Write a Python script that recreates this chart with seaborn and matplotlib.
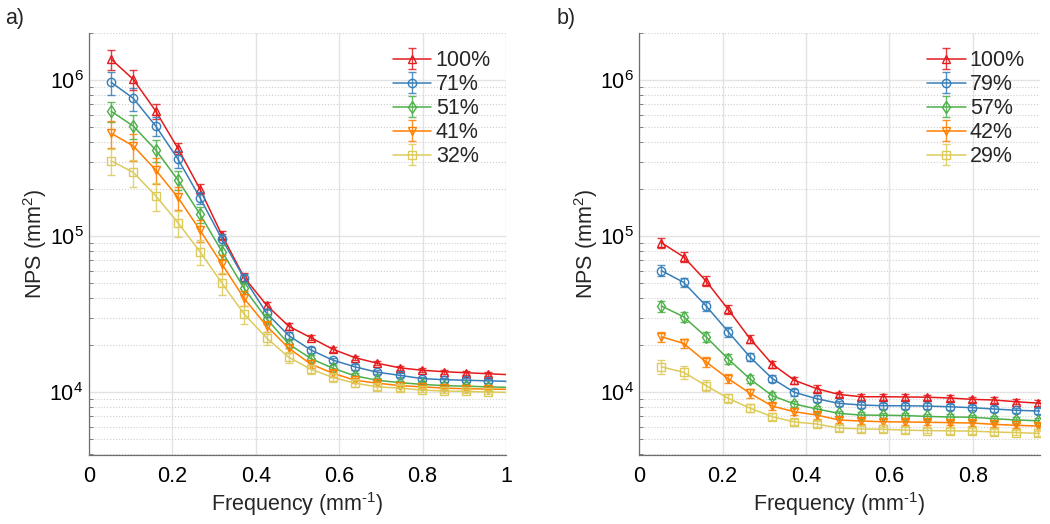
import numpy as np
import pandas as pd
import matplotlib
matplotlib.use('Agg')
import matplotlib.pyplot as plt
import seaborn as sns
from matplotlib.legend_handler import HandlerTuple
from matplotlib.ticker import LogLocator, NullFormatter

# ---------------- data ----------------
freq = [0.053, 0.106, 0.160, 0.213, 0.266, 0.319, 0.372, 0.426, 0.479, 0.532,
        0.585, 0.638, 0.691, 0.745, 0.798, 0.851, 0.904, 0.957, 1.011]

# panel a
labels_a = ['100%', '71%', '51%', '41%', '32%']
nps_a_100 = [1.36e6, 1.01e6, 6.32e5, 3.65e5, 2.0e5, 1.01e5, 5.43e4, 3.6e4, 2.64e4, 2.23e4,
             1.88e4, 1.66e4, 1.53e4, 1.43e4, 1.38e4, 1.35e4, 1.33e4, 1.31e4, 1.29e4]
nps_a_71 = [9.66e5, 7.63e5, 5.07e5, 3.12e5, 1.76e5, 9.53e4, 5.36e4, 3.2e4, 2.3e4, 1.86e4,
            1.6e4, 1.45e4, 1.34e4, 1.28e4, 1.22e4, 1.2e4, 1.19e4, 1.18e4, 1.17e4]
nps_a_51 = [6.3e5, 5.07e5, 3.56e5, 2.29e5, 1.38e5, 7.94e4, 4.62e4, 2.95e4, 2.03e4, 1.64e4,
            1.42e4, 1.27e4, 1.19e4, 1.15e4, 1.12e4, 1.1e4, 1.09e4, 1.08e4, 1.07e4]
nps_a_41 = [4.55e5, 3.78e5, 2.65e5, 1.77e5, 1.09e5, 6.59e4, 3.98e4, 2.65e4, 1.91e4, 1.51e4,
            1.32e4, 1.19e4, 1.14e4, 1.1e4, 1.08e4, 1.06e4, 1.05e4, 1.045e4, 1.04e4]
nps_a_32 = [3.03e5, 2.56e5, 1.81e5, 1.22e5, 7.94e4, 4.98e4, 3.16e4, 2.22e4, 1.67e4, 1.4e4,
            1.24e4, 1.14e4, 1.08e4, 1.06e4, 1.03e4, 1.015e4, 1.01e4, 1.0e4, 0.995e4]

# relative error (std / mean) for each curve of panel a
rel_a_100 = [0.15, 0.14, 0.11, 0.08, 0.07, 0.07, 0.06, 0.05, 0.05, 0.04,
             0.04, 0.03, 0.03, 0.03, 0.03, 0.03, 0.03, 0.03, 0.03]
rel_a_71 = [0.17, 0.17, 0.14, 0.12, 0.09, 0.08, 0.07, 0.06, 0.05, 0.05,
            0.04, 0.04, 0.03, 0.03, 0.03, 0.03, 0.03, 0.03, 0.03]
rel_a_51 = [0.15, 0.17, 0.16, 0.14, 0.12, 0.10, 0.08, 0.07, 0.06, 0.05,
            0.05, 0.04, 0.04, 0.03, 0.03, 0.03, 0.03, 0.03, 0.03]
rel_a_41 = [0.20, 0.20, 0.19, 0.17, 0.16, 0.14, 0.11, 0.08, 0.07, 0.06,
            0.05, 0.04, 0.04, 0.03, 0.03, 0.03, 0.03, 0.03, 0.03]
rel_a_32 = [0.19, 0.20, 0.20, 0.19, 0.18, 0.16, 0.13, 0.10, 0.08, 0.07,
            0.06, 0.05, 0.04, 0.04, 0.03, 0.03, 0.03, 0.03, 0.03]

# panel b
labels_b = ['100%', '79%', '57%', '42%', '29%']
nps_b_100 = [9.05e4, 7.36e4, 5.15e4, 3.39e4, 2.19e4, 1.51e4, 1.19e4, 1.05e4, 9.66e3, 9.33e3,
             9.33e3, 9.3e3, 9.27e3, 9.16e3, 8.98e3, 8.89e3, 8.67e3, 8.49e3, 8.4e3]
nps_b_79 = [6.0e4, 5.05e4, 3.57e4, 2.44e4, 1.67e4, 1.22e4, 9.96e3, 9.06e3, 8.46e3, 8.26e3,
            8.17e3, 8.17e3, 8.13e3, 8.05e3, 7.94e3, 7.79e3, 7.64e3, 7.56e3, 7.5e3]
nps_b_57 = [3.56e4, 3.04e4, 2.26e4, 1.63e4, 1.21e4, 9.47e3, 8.38e3, 7.79e3, 7.3e3, 7.12e3,
            7.1e3, 7.07e3, 6.98e3, 6.92e3, 6.9e3, 6.75e3, 6.62e3, 6.55e3, 6.5e3]
nps_b_42 = [2.26e4, 2.05e4, 1.56e4, 1.22e4, 9.8e3, 8.13e3, 7.48e3, 7.12e3, 6.62e3, 6.52e3,
            6.45e3, 6.43e3, 6.4e3, 6.37e3, 6.33e3, 6.21e3, 6.12e3, 6.06e3, 6.0e3]
nps_b_29 = [1.45e4, 1.34e4, 1.1e4, 9.12e3, 7.88e3, 6.95e3, 6.43e3, 6.24e3, 5.88e3, 5.8e3,
            5.77e3, 5.7e3, 5.66e3, 5.64e3, 5.62e3, 5.54e3, 5.5e3, 5.43e3, 5.4e3]

rel_b = [0.08, 0.07, 0.07, 0.07, 0.06, 0.05, 0.05, 0.05, 0.04, 0.04,
         0.04, 0.04, 0.04, 0.04, 0.04, 0.04, 0.04, 0.04, 0.04]
rel_b_low = [0.10, 0.09, 0.08, 0.07, 0.06, 0.05, 0.05, 0.05, 0.04, 0.04,
             0.04, 0.04, 0.04, 0.04, 0.04, 0.04, 0.04, 0.04, 0.04]

colors = ['#e41a1c', '#377eb8', '#4daf4a', '#ff7f00', '#dccb5c']
markers = ['^', 'o', 'd', 'v', 's']

# ---------------- style ----------------
sns.set_theme(style='white')
plt.rcParams['font.family'] = ['Liberation Sans', 'DejaVu Sans']
plt.rcParams['mathtext.fontset'] = 'custom'
plt.rcParams['mathtext.rm'] = 'Liberation Sans'
plt.rcParams['mathtext.it'] = 'Liberation Sans:italic'
plt.rcParams['mathtext.bf'] = 'Liberation Sans:bold'


def draw_panel(ax, series, rels, labels, xmax):
    handles = []
    for vals, rel, lab, col, mk in zip(series, rels, labels, colors, markers):
        vals = np.array(vals)
        df = pd.DataFrame({'freq': freq, 'nps': vals})
        sns.lineplot(data=df, x='freq', y='nps', ax=ax, color=col, marker=mk,
                     markersize=6 if mk != 'd' else 6.5, markerfacecolor='none',
                     markeredgecolor=col, markeredgewidth=1.0, linewidth=1.1)
        line = ax.lines[-1]
        eb = ax.errorbar(freq, vals, yerr=vals * np.array(rel), fmt='none',
                         ecolor=col, elinewidth=1.0, capsize=3.2, capthick=1.0, alpha=0.85)
        handles.append((line, eb))

    ax.set_yscale('log')
    ax.set_xlim(0, xmax)
    ax.set_ylim(3.95e3, 2.0e6)
    ticks = [t for t in [0, 0.2, 0.4, 0.6, 0.8, 1.0] if t <= xmax]
    ax.set_xticks(ticks)
    ax.set_xticklabels(['0', '0.2', '0.4', '0.6', '0.8', '1'][:len(ticks)])
    ax.yaxis.set_major_locator(LogLocator(base=10, numticks=10))
    ax.yaxis.set_minor_locator(LogLocator(base=10, subs=np.arange(2, 10), numticks=20))
    ax.yaxis.set_minor_formatter(NullFormatter())

    ax.grid(True, which='major', color='#e3e3e3', linewidth=1.0, linestyle='-')
    ax.grid(True, which='minor', axis='y', color='#cfcfcf', linewidth=0.8, linestyle=':')
    ax.set_axisbelow(True)

    for s in ['top', 'right']:
        ax.spines[s].set_visible(False)
    for s in ['left', 'bottom']:
        ax.spines[s].set_color('#6e6e6e')
        ax.spines[s].set_linewidth(0.9)
    ax.tick_params(axis='both', which='both', direction='in', colors='#6e6e6e',
                   labelcolor='black', labelsize=15.5)
    ax.tick_params(axis='both', which='major', length=5, width=0.8)
    ax.tick_params(axis='y', which='minor', length=3, width=0.6, left=True)
    ax.tick_params(axis='x', which='major', pad=8)
    ax.tick_params(axis='y', which='major', pad=4)

    ax.set_xlabel('Frequency (mm$^{\\text{-}1}$)', fontsize=15.5, labelpad=2)
    ax.set_ylabel('NPS (mm$^2$)', fontsize=15.5, labelpad=0)

    ax.legend(handles, labels, handler_map={tuple: HandlerTuple(ndivide=1)},
              loc='upper right', bbox_to_anchor=(1.0, 0.995), frameon=False,
              fontsize=15.5, handlelength=1.8, handletextpad=0.2, labelspacing=0.14,
              borderaxespad=0.3)


fig = plt.figure(figsize=(10.5, 5.24), dpi=100)
ax_a = fig.add_axes([0.0848, 0.1317, 0.3971, 0.8053])
ax_b = fig.add_axes([0.6089, 0.1317, 0.3816, 0.8053])

draw_panel(ax_a, [nps_a_100, nps_a_71, nps_a_51, nps_a_41, nps_a_32],
           [rel_a_100, rel_a_71, rel_a_51, rel_a_41, rel_a_32], labels_a, 1.0)
draw_panel(ax_b, [nps_b_100, nps_b_79, nps_b_57, nps_b_42, nps_b_29],
           [rel_b, rel_b, rel_b, rel_b, rel_b_low], labels_b, 0.9617)

fig.text(0.005, 0.965, 'a)', fontsize=15.5, va='center', ha='left')
fig.text(0.530, 0.965, 'b)', fontsize=15.5, va='center', ha='left')

fig.savefig('out.png', dpi=100)
